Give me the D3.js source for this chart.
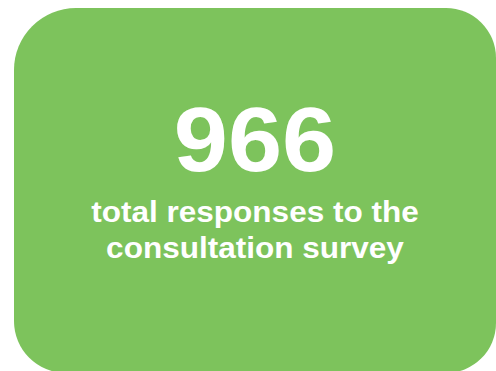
<!DOCTYPE html>
<html>
<head>
<meta charset="utf-8">
<script src="https://cdn.jsdelivr.net/npm/d3@7"></script>
<style>
  html, body { margin: 0; padding: 0; background: #ffffff; }
  svg { display: block; }
</style>
</head>
<body>
<svg id="card" width="496" height="371"></svg>
<script>
// Headline figure and its caption
const totals = [966];
const captionLines = ["total responses to the", "consultation survey"];

const W = 496, H = 371;
const svg = d3.select("#card");

// Card box with individually rounded corners
const box = { x0: 14, y0: 8, x1: 496, y1: 373 };
const r = { tl: 62, tr: 50, br: 50, bl: 52 };
const p = d3.path();
p.moveTo(box.x0 + r.tl, box.y0);
p.lineTo(box.x1 - r.tr, box.y0);
p.arcTo(box.x1, box.y0, box.x1, box.y0 + r.tr, r.tr);
p.lineTo(box.x1, box.y1 - r.br);
p.arcTo(box.x1, box.y1, box.x1 - r.br, box.y1, r.br);
p.lineTo(box.x0 + r.bl, box.y1);
p.arcTo(box.x0, box.y1, box.x0, box.y1 - r.bl, r.bl);
p.lineTo(box.x0, box.y0 + r.tl);
p.arcTo(box.x0, box.y0, box.x0 + r.tl, box.y0, r.tl);
p.closePath();

svg.append("path")
  .attr("d", p.toString())
  .attr("fill", "#7dc35c");

const cx = 255;
const font = "'Liberation Sans', Arial, Helvetica, sans-serif";

// Big number
svg.append("g")
  .attr("transform", `translate(${cx},0) scale(1.07,1)`)
  .selectAll("text.total")
  .data(totals)
  .join("text")
  .attr("class", "total")
  .attr("x", 0)
  .attr("y", 171)
  .attr("text-anchor", "middle")
  .attr("fill", "#ffffff")
  .attr("font-family", font)
  .attr("font-weight", "bold")
  .attr("font-size", 91)
  .text(d => d3.format("d")(d));

// Caption lines
svg.append("g")
  .attr("transform", `translate(${cx},0) scale(1.08,1)`)
  .selectAll("text.caption")
  .data(captionLines)
  .join("text")
  .attr("class", "caption")
  .attr("x", 0)
  .attr("y", (d, i) => 222 + i * 36)
  .attr("text-anchor", "middle")
  .attr("fill", "#ffffff")
  .attr("font-family", font)
  .attr("font-weight", "bold")
  .attr("font-size", 29.2)
  .text(d => d);
</script>
</body>
</html>
